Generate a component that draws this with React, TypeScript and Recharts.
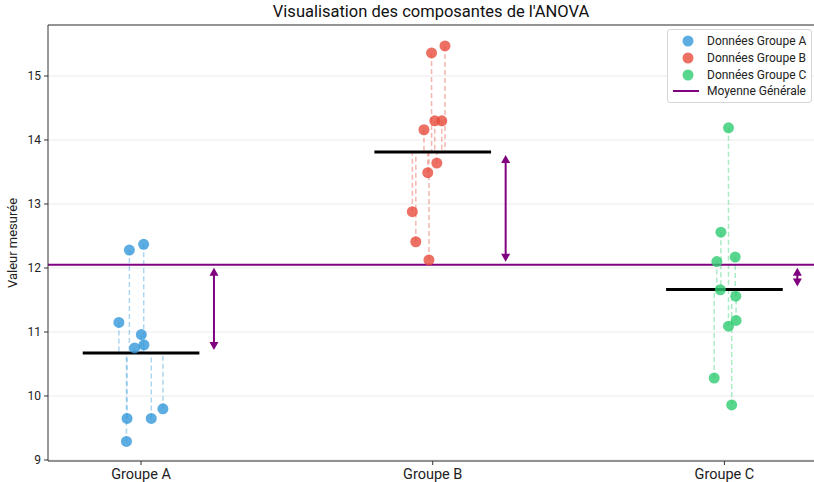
import React from 'react';
import { ComposedChart, Scatter, XAxis, YAxis, CartesianGrid, ReferenceLine } from 'recharts';

const groupNames = ['Groupe A', 'Groupe B', 'Groupe C'];
const groupColors = ['#3498db', '#e74c3c', '#2ecc71'];
const legendLabels = ['Données Groupe A', 'Données Groupe B', 'Données Groupe C', 'Moyenne Générale'];

const groupAValues = [12.28, 12.37, 11.15, 10.96, 10.8, 10.75, 9.65, 9.65, 9.8, 9.29];
const groupAJitter = [-0.04, 0.009, -0.076, 0.001, 0.01, -0.022, -0.048, 0.035, 0.075, -0.05];
const groupBValues = [15.36, 15.47, 14.3, 14.3, 14.16, 13.64, 13.49, 12.88, 12.41, 12.125];
const groupBJitter = [-0.004, 0.042, 0.007, 0.031, -0.03, 0.014, -0.017, -0.07, -0.058, -0.013];
const groupCValues = [14.19, 12.56, 12.1, 12.17, 11.66, 11.56, 11.18, 11.09, 10.28, 9.86];
const groupCJitter = [0.014, -0.012, -0.026, 0.037, -0.014, 0.039, 0.04, 0.014, -0.035, 0.025];

const yTicks = [9, 10, 11, 12, 13, 14, 15];
const xTicks = [0, 1, 2];

const allValues = [groupAValues, groupBValues, groupCValues];
const allJitter = [groupAJitter, groupBJitter, groupCJitter];

const mean = (a: number[]) => a.reduce((s, v) => s + v, 0) / a.length;
const groupMeans = allValues.map(mean);
const grandMean = mean(allValues.flat());

const groupData = allValues.map((vals, gi) =>
  vals.map((v, i) => ({ x: gi + allJitter[gi][i], y: v, m: groupMeans[gi] }))
);

const Y_DOMAIN: [number, number] = [8.984, 15.797];
const X_DOMAIN: [number, number] = [-0.319, 2.362];

const ArrowShape = (props: any) => {
  const { x1, y1, y2 } = props;
  const x = x1;
  const top = Math.min(y1, y2) + 3;
  const bot = Math.max(y1, y2) - 3;
  const hl = 8;
  const hw = 4.5;
  const c = '#800080';
  return (
    <g>
      <line x1={x} y1={top + hl - 1} x2={x} y2={bot - hl + 1} stroke={c} strokeWidth={2} />
      <polygon points={`${x},${top} ${x - hw},${top + hl} ${x + hw},${top + hl}`} fill={c} />
      <polygon points={`${x},${bot} ${x - hw},${bot - hl} ${x + hw},${bot - hl}`} fill={c} />
    </g>
  );
};

const LegendBox = () => (
  <div
    style={{
      position: 'absolute',
      left: 667,
      top: 29,
      boxSizing: 'border-box',
      width: 145,
      height: 74,
      border: '1px solid #d6d6d6',
      borderRadius: 3,
      background: 'rgba(255,255,255,0.85)',
      padding: '3px 0 0 5px',
      fontSize: 12,
      color: '#222',
    }}
  >
    {legendLabels.map((lab, i) => (
      <div key={lab} style={{ display: 'flex', alignItems: 'center', height: 16.7 }}>
        <svg width={28} height={12} style={{ marginRight: 6, flex: 'none' }}>
          {i < 3 ? (
            <circle cx={15} cy={6} r={5.5} fill={groupColors[i]} fillOpacity={0.8} />
          ) : (
            <line x1={0} y1={6} x2={26} y2={6} stroke="#800080" strokeWidth={2} />
          )}
        </svg>
        <span style={{ whiteSpace: 'nowrap' }}>{lab}</span>
      </div>
    ))}
  </div>
);

export default function App() {
  return (
    <div
      style={{
        position: 'absolute',
        left: 0,
        top: 0,
        width: 814,
        height: 482,
        overflow: 'hidden',
        fontFamily: 'Roboto, sans-serif',
        background: '#fff',
      }}
    >
      <ComposedChart width={830} height={482} margin={{ top: 25, right: 0, bottom: 0, left: 0 }}>
        <CartesianGrid horizontal vertical={false} stroke="#ebebeb" />
        <XAxis
          type="number"
          dataKey="x"
          domain={X_DOMAIN}
          ticks={xTicks}
          allowDataOverflow
          tickFormatter={(v: number) => groupNames[v] ?? ''}
          height={21}
          stroke="#333"
          tick={{ fill: '#222', fontSize: 14.5 }}
          tickSize={4}
          tickMargin={4}
        />
        <YAxis
          type="number"
          dataKey="y"
          domain={Y_DOMAIN}
          ticks={yTicks}
          allowDataOverflow
          width={48}
          stroke="#333"
          tick={{ fill: '#222', fontSize: 12 }}
          tickSize={4}
          tickMargin={3}
          label={{
            content: (p: any) => {
              const vb = p.viewBox || { y: 25, height: 436 };
              const cy = vb.y + vb.height / 2;
              return (
                <text x={17} y={cy} transform={`rotate(-90 17 ${cy})`} textAnchor="middle" fontSize={13} fill="#222">
                  Valeur mesurée
                </text>
              );
            },
          }}
        />
        <ReferenceLine y={Y_DOMAIN[1]} stroke="#333" strokeWidth={1} />
        {groupData.map((pts, gi) =>
          pts.map((p, i) => (
            <ReferenceLine
              key={`d${gi}-${i}`}
              segment={[
                { x: p.x, y: p.y },
                { x: p.x, y: p.m },
              ]}
              stroke={groupColors[gi]}
              strokeOpacity={0.4}
              strokeWidth={1.5}
              strokeDasharray="5 3"
            />
          ))
        )}
        <ReferenceLine y={grandMean} stroke="#800080" strokeWidth={2} />
        {groupMeans.map((m, gi) => (
          <ReferenceLine
            key={`m${gi}`}
            segment={[
              { x: gi - 0.2, y: m },
              { x: gi + 0.2, y: m },
            ]}
            stroke="#000"
            strokeWidth={3}
          />
        ))}
        {groupMeans.map((m, gi) => (
          <ReferenceLine
            key={`a${gi}`}
            segment={[
              { x: gi + 0.25, y: m },
              { x: gi + 0.25, y: grandMean },
            ]}
            stroke="#800080"
            shape={ArrowShape}
          />
        ))}
        {groupData.map((pts, gi) => (
          <Scatter
            key={`s${gi}`}
            name={legendLabels[gi]}
            data={pts}
            isAnimationActive={false}
            shape={(p: any) => (
              <circle cx={p.cx} cy={p.cy} r={5.5} fill={groupColors[gi]} fillOpacity={0.8} />
            )}
          />
        ))}
      </ComposedChart>
      <div
        style={{
          position: 'absolute',
          left: 48,
          width: 766,
          top: 2,
          textAlign: 'center',
          fontSize: 16.5,
          color: '#111',
        }}
      >
        Visualisation des composantes de l'ANOVA
      </div>
      <LegendBox />
    </div>
  );
}
